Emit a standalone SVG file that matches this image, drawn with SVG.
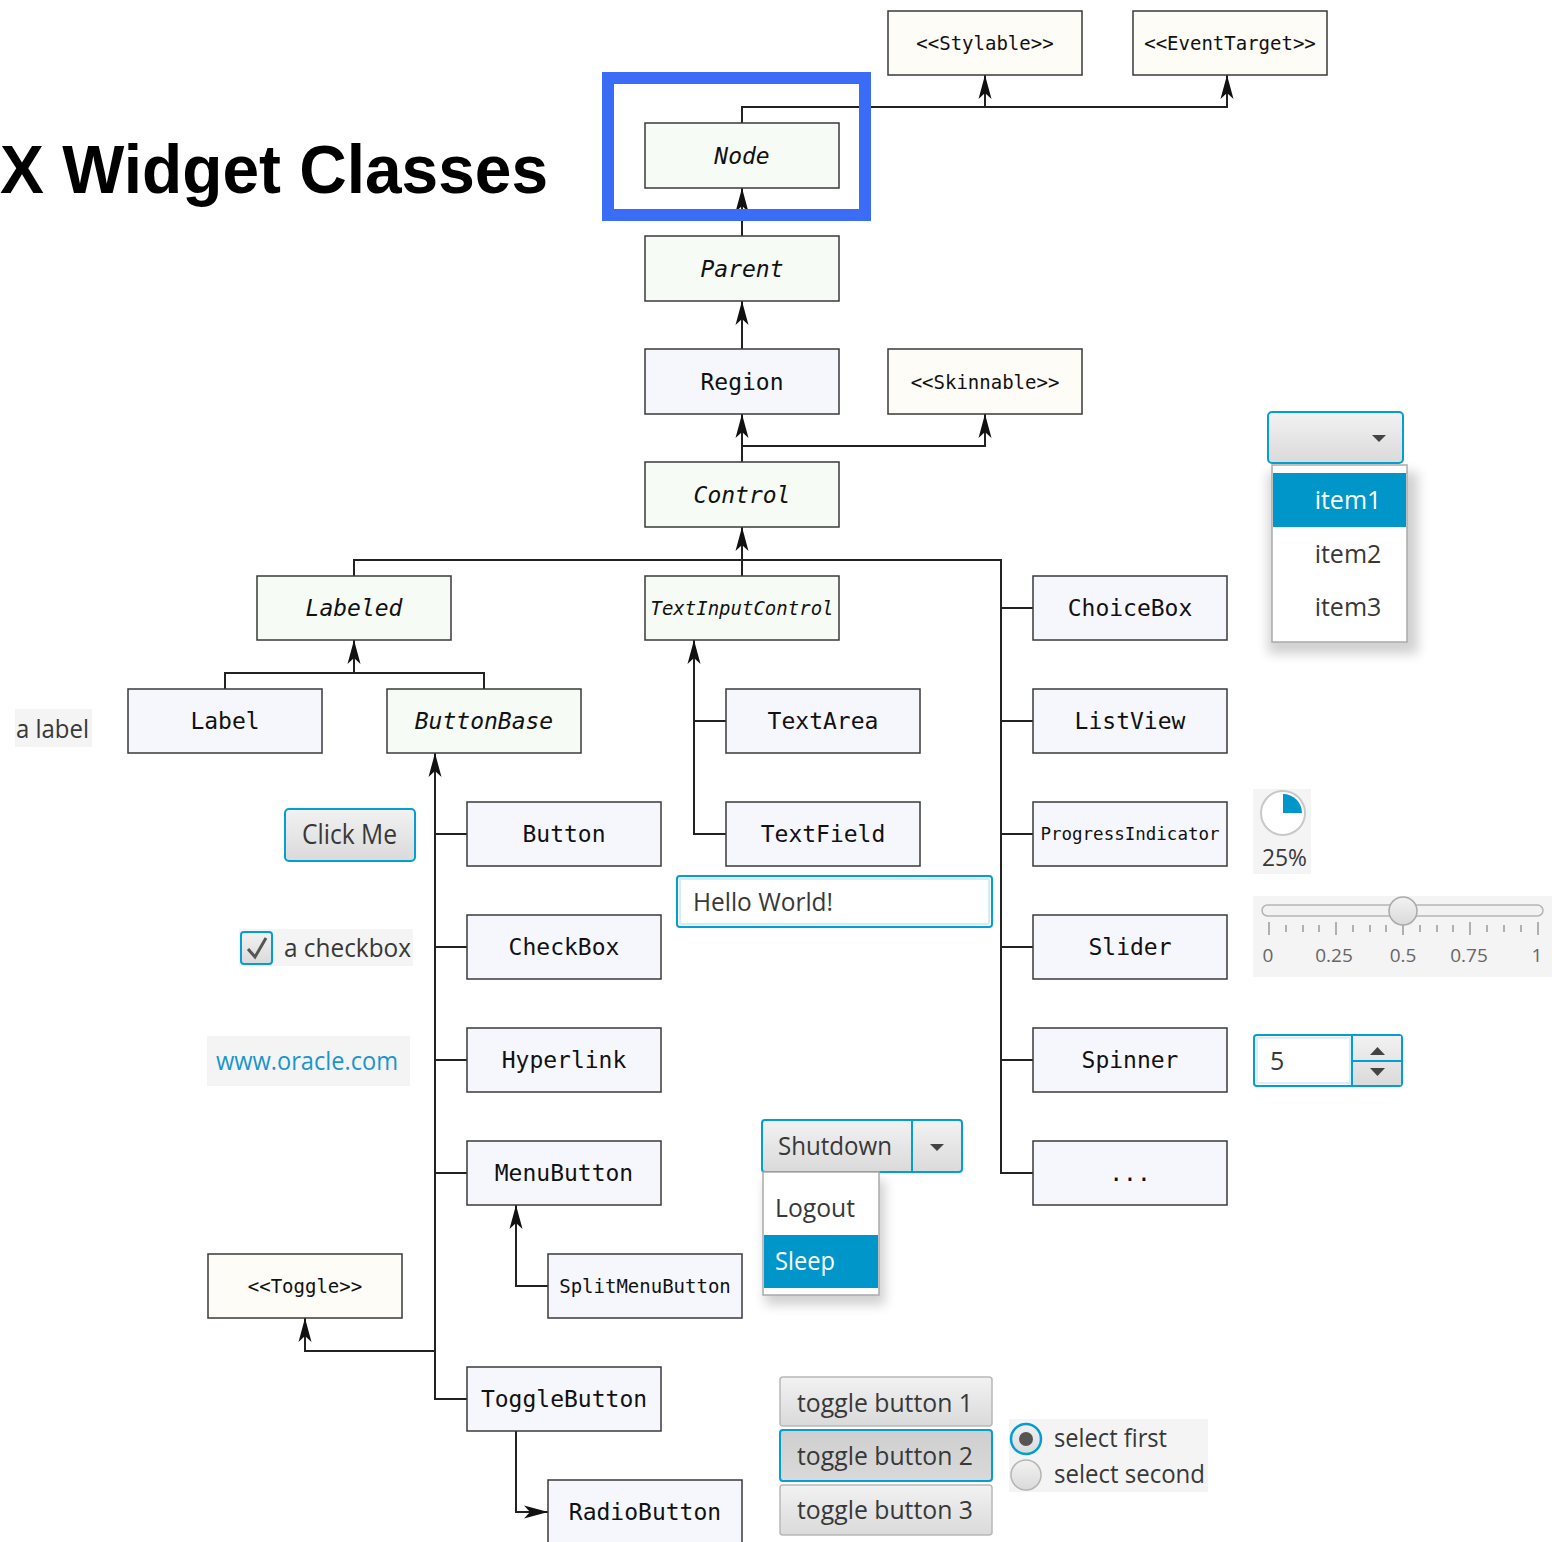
<svg xmlns="http://www.w3.org/2000/svg" width="1552" height="1542" viewBox="0 0 1552 1542">
<defs>
<style>
.box{stroke:#3a3a3a;stroke-width:1.5}
.g{fill:#f6fcf5}.b{fill:#f6f7fd}.y{fill:#fdfcf6}
.t{font-family:"DejaVu Sans Mono",monospace;font-size:23px;text-anchor:middle;fill:#111}
.it{font-style:italic}
.s{font-size:19px}
.xs{font-size:17.5px}
.c{fill:none;stroke:#222;stroke-width:2}
.w{font-family:"Open Sans","Noto Sans",sans-serif;font-size:25px;fill:#383838}
.wbg{fill:#f4f4f4}
.focus{stroke:#039ed3;stroke-width:2}
</style>
<marker id="ah" markerUnits="userSpaceOnUse" markerWidth="30" markerHeight="18" viewBox="-25 -9 30 18" refX="0" refY="0" orient="auto">
<path d="M0,0 L-24,-6.5 L-18,0 L-24,6.5 Z" fill="#111"/>
</marker>
<linearGradient id="btn" x1="0" y1="0" x2="0" y2="1"><stop offset="0" stop-color="#f2f2f2"/><stop offset="1" stop-color="#dadada"/></linearGradient>
<linearGradient id="sel" x1="0" y1="0" x2="0" y2="1"><stop offset="0" stop-color="#cfcfcf"/><stop offset="1" stop-color="#d9d9d9"/></linearGradient>
<filter id="sh" x="-20%" y="-20%" width="140%" height="150%"><feGaussianBlur stdDeviation="6"/></filter>
</defs>
<rect width="1552" height="1542" fill="#fff"/>

<text x="0" y="193" font-family="Liberation Sans,Arial,sans-serif" font-weight="bold" font-size="68" textLength="548" lengthAdjust="spacingAndGlyphs" fill="#000">X Widget Classes</text>

<g id="connectors">
<path class="c" d="M742,123 V107 H1227 V75" marker-end="url(#ah)"/>
<path class="c" d="M985,107 V75" marker-end="url(#ah)"/>
<path class="c" d="M742,236 V188" marker-end="url(#ah)"/>
<path class="c" d="M742,349 V301" marker-end="url(#ah)"/>
<path class="c" d="M742,462 V414" marker-end="url(#ah)"/>
<path class="c" d="M742,446 H985 V414" marker-end="url(#ah)"/>
<path class="c" d="M742,576 V527" marker-end="url(#ah)"/>
<path class="c" d="M354,576 V560 H1001 V1173 H1033"/>
<path class="c" d="M1001,608 H1033 M1001,721 H1033 M1001,834 H1033 M1001,947 H1033 M1001,1060 H1033"/>
<path class="c" d="M354,673 V640" marker-end="url(#ah)"/>
<path class="c" d="M225,689 V673 H484 V689"/>
<path class="c" d="M467,1399 H435 V753" marker-end="url(#ah)"/>
<path class="c" d="M435,834 H467 M435,947 H467 M435,1060 H467 M435,1173 H467"/>
<path class="c" d="M435,1351 H305 V1318" marker-end="url(#ah)"/>
<path class="c" d="M726,834 H694 V640" marker-end="url(#ah)"/>
<path class="c" d="M694,721 H726"/>
<path class="c" d="M548,1286 H516 V1205" marker-end="url(#ah)"/>
<path class="c" d="M516,1431 V1512 H548" marker-end="url(#ah)"/>
</g>

<g id="stylable"><rect class="box y" x="888" y="11" width="194" height="64"/><text class="t s" x="985" y="50">&lt;&lt;Stylable&gt;&gt;</text></g>
<g id="eventtarget"><rect class="box y" x="1133" y="11" width="194" height="64"/><text class="t s" x="1230" y="50">&lt;&lt;EventTarget&gt;&gt;</text></g>
<g id="node"><rect class="box g" x="645" y="123" width="194" height="65"/><text class="t it" x="742" y="164">Node</text></g>
<g id="parent"><rect class="box g" x="645" y="236" width="194" height="65"/><text class="t it" x="742" y="277">Parent</text></g>
<g id="region"><rect class="box b" x="645" y="349" width="194" height="65"/><text class="t" x="742" y="390">Region</text></g>
<g id="skinnable"><rect class="box y" x="888" y="349" width="194" height="65"/><text class="t s" x="985" y="389">&lt;&lt;Skinnable&gt;&gt;</text></g>
<g id="control"><rect class="box g" x="645" y="462" width="194" height="65"/><text class="t it" x="742" y="503">Control</text></g>
<g id="labeled"><rect class="box g" x="257" y="576" width="194" height="64"/><text class="t it" x="354" y="616">Labeled</text></g>
<g id="textinputcontrol"><rect class="box g" x="645" y="576" width="194" height="64"/><text class="t it s" x="742" y="615">TextInputControl</text></g>
<g id="choicebox"><rect class="box b" x="1033" y="576" width="194" height="64"/><text class="t" x="1130" y="616">ChoiceBox</text></g>
<g id="label"><rect class="box b" x="128" y="689" width="194" height="64"/><text class="t" x="225" y="729">Label</text></g>
<g id="buttonbase"><rect class="box g" x="387" y="689" width="194" height="64"/><text class="t it" x="484" y="729">ButtonBase</text></g>
<g id="textarea"><rect class="box b" x="726" y="689" width="194" height="64"/><text class="t" x="823" y="729">TextArea</text></g>
<g id="listview"><rect class="box b" x="1033" y="689" width="194" height="64"/><text class="t" x="1130" y="729">ListView</text></g>
<g id="button"><rect class="box b" x="467" y="802" width="194" height="64"/><text class="t" x="564" y="842">Button</text></g>
<g id="textfield"><rect class="box b" x="726" y="802" width="194" height="64"/><text class="t" x="823" y="842">TextField</text></g>
<g id="progressindicator"><rect class="box b" x="1033" y="802" width="194" height="64"/><text class="t xs" x="1130" y="840">ProgressIndicator</text></g>
<g id="checkbox"><rect class="box b" x="467" y="915" width="194" height="64"/><text class="t" x="564" y="955">CheckBox</text></g>
<g id="slider"><rect class="box b" x="1033" y="915" width="194" height="64"/><text class="t" x="1130" y="955">Slider</text></g>
<g id="hyperlink"><rect class="box b" x="467" y="1028" width="194" height="64"/><text class="t" x="564" y="1068">Hyperlink</text></g>
<g id="spinner"><rect class="box b" x="1033" y="1028" width="194" height="64"/><text class="t" x="1130" y="1068">Spinner</text></g>
<g id="menubutton"><rect class="box b" x="467" y="1141" width="194" height="64"/><text class="t" x="564" y="1181">MenuButton</text></g>
<g id="more"><rect class="box b" x="1033" y="1141" width="194" height="64"/><text class="t" x="1130" y="1181">...</text></g>
<g id="toggle"><rect class="box y" x="208" y="1254" width="194" height="64"/><text class="t s" x="305" y="1293">&lt;&lt;Toggle&gt;&gt;</text></g>
<g id="splitmenubutton"><rect class="box b" x="548" y="1254" width="194" height="64"/><text class="t s" x="645" y="1293">SplitMenuButton</text></g>
<g id="togglebutton"><rect class="box b" x="467" y="1367" width="194" height="64"/><text class="t" x="564" y="1407">ToggleButton</text></g>
<g id="radiobutton"><rect class="box b" x="548" y="1480" width="194" height="64"/><text class="t" x="645" y="1520">RadioButton</text></g>

<rect id="highlight" x="608" y="78" width="257" height="137" fill="none" stroke="#3b6cf6" stroke-width="12"/>

<g id="widgets">
<rect class="wbg" x="15" y="709" width="77" height="38"/>
<text class="w" x="16" y="738" textLength="73" lengthAdjust="spacingAndGlyphs">a label</text>
<rect x="285" y="809" width="130" height="52" rx="4" fill="url(#btn)" class="focus"/>
<text class="w" x="302" y="844" style="font-size:27px" textLength="95" lengthAdjust="spacingAndGlyphs">Click Me</text>
<rect class="wbg" x="239" y="929" width="174" height="37"/>
<rect x="241" y="932" width="31" height="32" rx="3" fill="url(#btn)" class="focus"/>
<path d="M248,949 L255,957 L266,938" fill="none" stroke="#555" stroke-width="3"/>
<text class="w" x="284" y="957" textLength="127" lengthAdjust="spacingAndGlyphs">a checkbox</text>
<rect class="wbg" x="207" y="1036" width="203" height="50"/>
<text class="w" x="216" y="1070" style="fill:#1a96cc" textLength="182" lengthAdjust="spacingAndGlyphs">www.oracle.com</text>
<rect x="677" y="876" width="315" height="51" rx="3" fill="#fff" class="focus"/>
<rect x="680" y="879" width="309" height="45" rx="2" fill="none" stroke="#d4ecf7" stroke-width="2"/>
<text class="w" x="693" y="911" style="font-size:26px" textLength="140" lengthAdjust="spacingAndGlyphs">Hello World!</text>
<rect x="1268" y="472" width="150" height="182" fill="#000" opacity="0.18" filter="url(#sh)"/>
<rect x="1268" y="412" width="135" height="51" rx="4" fill="url(#btn)" class="focus"/>
<polygon points="1372,435 1386,435 1379,442" fill="#444"/>
<rect x="1272" y="465" width="135" height="177" fill="#fff" stroke="#aaa" stroke-width="1.5"/>
<rect x="1273" y="473" width="133" height="54" fill="#0096c9"/>
<text class="w" x="1348" y="509" text-anchor="middle" style="fill:#fff">item1</text>
<text class="w" x="1348" y="563" text-anchor="middle">item2</text>
<text class="w" x="1348" y="616" text-anchor="middle">item3</text>
<rect class="wbg" x="1253" y="789" width="58" height="85"/>
<circle cx="1283" cy="813" r="22" fill="#fff" stroke="#c8c8c8" stroke-width="2"/>
<path d="M1283,813 V794 A19,19 0 0 1 1302,813 Z" fill="#0096c9"/>
<text class="w" x="1262" y="866" style="font-size:23px" textLength="45" lengthAdjust="spacingAndGlyphs">25%</text>
<rect class="wbg" x="1253" y="896" width="299" height="81"/>
<rect x="1262" y="905" width="281" height="11" rx="5.5" fill="#f2f2f2" stroke="#b5b5b5" stroke-width="1.5"/>
<g stroke="#b0b0b0" stroke-width="2">
<path d="M1269,922 V935 M1336,922 V935 M1403,922 V935 M1470,922 V935 M1538,922 V935"/>
<path d="M1286,925 V932 M1303,925 V932 M1319,925 V932 M1353,925 V932 M1370,925 V932 M1386,925 V932 M1420,925 V932 M1437,925 V932 M1453,925 V932 M1487,925 V932 M1504,925 V932 M1521,925 V932"/>
</g>
<circle cx="1403" cy="911" r="14" fill="url(#btn)" stroke="#aaa" stroke-width="1.5"/>
<g class="w" text-anchor="middle" style="fill:#666;font-size:19px">
<text x="1268" y="962">0</text><text x="1334" y="962">0.25</text><text x="1403" y="962">0.5</text><text x="1469" y="962">0.75</text><text x="1537" y="962">1</text>
</g>
<rect x="1254" y="1035" width="148" height="51" rx="3" fill="#fff" class="focus"/>
<rect x="1257" y="1038" width="93" height="45" fill="none" stroke="#ddeff8" stroke-width="2"/>
<rect x="1353" y="1036" width="48" height="49" fill="url(#btn)"/>
<path d="M1352,1035 V1086 M1352,1061 H1402" stroke="#039ed3" stroke-width="2"/>
<polygon points="1370,1055 1385,1055 1377.5,1047" fill="#444"/>
<polygon points="1370,1068 1385,1068 1377.5,1076" fill="#444"/>
<text class="w" x="1270" y="1070">5</text>
<rect x="765" y="1180" width="120" height="125" fill="#000" opacity="0.18" filter="url(#sh)"/>
<rect x="762" y="1120" width="200" height="52" rx="3" fill="url(#btn)" class="focus"/>
<path d="M912,1120 V1172" stroke="#039ed3" stroke-width="2"/>
<polygon points="930,1144 944,1144 937,1151" fill="#444"/>
<text class="w" x="778" y="1155" style="font-size:26px" textLength="114" lengthAdjust="spacingAndGlyphs">Shutdown</text>
<rect x="763" y="1172" width="116" height="123" fill="#fff" stroke="#aaa" stroke-width="1.5"/>
<text class="w" x="775" y="1217" style="font-size:26px" textLength="80" lengthAdjust="spacingAndGlyphs">Logout</text>
<rect x="764" y="1235" width="114" height="53" fill="#0096c9"/>
<text class="w" x="775" y="1270" style="font-size:26px;fill:#fff" textLength="60" lengthAdjust="spacingAndGlyphs">Sleep</text>
<rect x="780" y="1377" width="212" height="49" rx="3" fill="url(#btn)" stroke="#b8b8b8" stroke-width="1.5"/>
<rect x="780" y="1430" width="212" height="51" rx="3" fill="url(#sel)" class="focus"/>
<rect x="780" y="1485" width="212" height="50" rx="3" fill="url(#btn)" stroke="#b8b8b8" stroke-width="1.5"/>
<text class="w" x="885" y="1412" text-anchor="middle" textLength="176" lengthAdjust="spacingAndGlyphs">toggle button 1</text>
<text class="w" x="885" y="1465" text-anchor="middle" textLength="176" lengthAdjust="spacingAndGlyphs">toggle button 2</text>
<text class="w" x="885" y="1519" text-anchor="middle" textLength="176" lengthAdjust="spacingAndGlyphs">toggle button 3</text>
<rect class="wbg" x="1009" y="1419" width="199" height="73"/>
<circle cx="1026" cy="1439" r="15" fill="url(#btn)" stroke="#039ed3" stroke-width="2.5"/>
<circle cx="1026" cy="1439" r="7" fill="#555"/>
<circle cx="1026" cy="1475" r="15" fill="url(#btn)" stroke="#b5b5b5" stroke-width="1.5"/>
<text class="w" x="1054" y="1447" textLength="113" lengthAdjust="spacingAndGlyphs">select first</text>
<text class="w" x="1054" y="1483" textLength="151" lengthAdjust="spacingAndGlyphs">select second</text>
</g>
</svg>
